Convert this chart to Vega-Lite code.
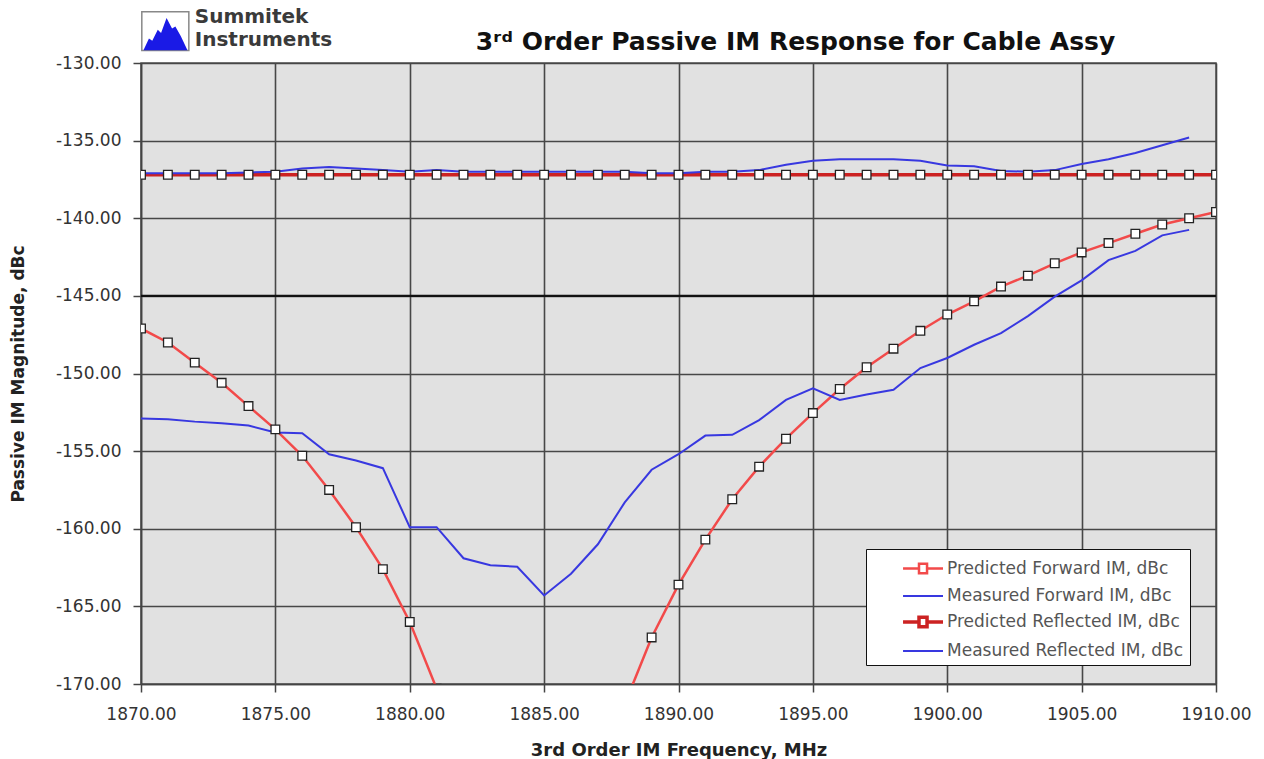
{
  "$schema": "https://vega.github.io/schema/vega-lite/v6.json",
  "width": 1075,
  "height": 621,
  "autosize": {"type": "none"},
  "padding": {"left": 141, "top": 63, "right": 48, "bottom": 75},
  "background": "white",
  "title": {
    "text": "3ʳᵈ Order Passive IM Response for Cable Assy",
    "font": "DejaVu Sans",
    "fontSize": 25,
    "fontWeight": "bold",
    "color": "#111111",
    "anchor": "middle",
    "dx": 117,
    "dy": 57,
    "offset": 9
  },
  "config": {
    "view": {"fill": "#e1e1e1", "stroke": "#555555", "strokeWidth": 1.5},
    "axis": {
      "labelFont": "DejaVu Sans",
      "labelFontSize": 17,
      "labelColor": "#333333",
      "titleFont": "DejaVu Sans",
      "titleFontWeight": "bold",
      "titleColor": "#222222",
      "gridColor": "#474747",
      "gridWidth": 1.6,
      "gridOpacity": 1,
      "tickColor": "#444444",
      "tickWidth": 1.5,
      "tickSize": 8,
      "domainColor": "#444444",
      "domainWidth": 1.5
    }
  },
  "data": {
    "values": [
      {"f": 1870, "pf": -147.1, "pr": -137.2, "mf": -152.9, "mr": -137.1},
      {"f": 1871, "pf": -148.0, "pr": -137.2, "mf": -152.95, "mr": -137.1},
      {"f": 1872, "pf": -149.3, "pr": -137.2, "mf": -153.1, "mr": -137.1},
      {"f": 1873, "pf": -150.6, "pr": -137.2, "mf": -153.2, "mr": -137.1},
      {"f": 1874, "pf": -152.1, "pr": -137.2, "mf": -153.35, "mr": -137.05},
      {"f": 1875, "pf": -153.6, "pr": -137.2, "mf": -153.8, "mr": -137.0},
      {"f": 1876, "pf": -155.3, "pr": -137.2, "mf": -153.85, "mr": -136.8},
      {"f": 1877, "pf": -157.5, "pr": -137.2, "mf": -155.2, "mr": -136.7},
      {"f": 1878, "pf": -159.9, "pr": -137.2, "mf": -155.6, "mr": -136.8},
      {"f": 1879, "pf": -162.6, "pr": -137.2, "mf": -156.1, "mr": -136.9},
      {"f": 1880, "pf": -166.0, "pr": -137.2, "mf": -159.9, "mr": -137.0},
      {"f": 1881, "pf": -170.3, "pr": -137.2, "mf": -159.9, "mr": -136.9},
      {"f": 1882, "pf": -175.3, "pr": -137.2, "mf": -161.9, "mr": -137.0},
      {"f": 1883, "pf": -179.0, "pr": -137.2, "mf": -162.35, "mr": -137.0},
      {"f": 1884, "pf": -181.5, "pr": -137.2, "mf": -162.45, "mr": -137.0},
      {"f": 1885, "pf": -182.3, "pr": -137.2, "mf": -164.3, "mr": -137.0},
      {"f": 1886, "pf": -180.6, "pr": -137.2, "mf": -162.9, "mr": -137.0},
      {"f": 1887, "pf": -176.5, "pr": -137.2, "mf": -161.0, "mr": -137.0},
      {"f": 1888, "pf": -171.3, "pr": -137.2, "mf": -158.3, "mr": -137.0},
      {"f": 1889, "pf": -167.0, "pr": -137.2, "mf": -156.2, "mr": -137.1},
      {"f": 1890, "pf": -163.6, "pr": -137.2, "mf": -155.2, "mr": -137.1},
      {"f": 1891, "pf": -160.7, "pr": -137.2, "mf": -154.0, "mr": -137.0},
      {"f": 1892, "pf": -158.1, "pr": -137.2, "mf": -153.95, "mr": -137.0},
      {"f": 1893, "pf": -156.0, "pr": -137.2, "mf": -153.0, "mr": -136.9},
      {"f": 1894, "pf": -154.2, "pr": -137.2, "mf": -151.7, "mr": -136.55},
      {"f": 1895, "pf": -152.55, "pr": -137.2, "mf": -150.95, "mr": -136.3},
      {"f": 1896, "pf": -151.0, "pr": -137.2, "mf": -151.7, "mr": -136.2},
      {"f": 1897, "pf": -149.6, "pr": -137.2, "mf": -151.35, "mr": -136.2},
      {"f": 1898, "pf": -148.4, "pr": -137.2, "mf": -151.05, "mr": -136.2},
      {"f": 1899, "pf": -147.25, "pr": -137.2, "mf": -149.65, "mr": -136.3},
      {"f": 1900, "pf": -146.2, "pr": -137.2, "mf": -149.0, "mr": -136.6},
      {"f": 1901, "pf": -145.35, "pr": -137.2, "mf": -148.15, "mr": -136.65},
      {"f": 1902, "pf": -144.4, "pr": -137.2, "mf": -147.4, "mr": -136.95},
      {"f": 1903, "pf": -143.7, "pr": -137.2, "mf": -146.3, "mr": -137.0},
      {"f": 1904, "pf": -142.9, "pr": -137.2, "mf": -145.05, "mr": -136.9},
      {"f": 1905, "pf": -142.2, "pr": -137.2, "mf": -144.0, "mr": -136.5},
      {"f": 1906, "pf": -141.6, "pr": -137.2, "mf": -142.7, "mr": -136.2},
      {"f": 1907, "pf": -141.0, "pr": -137.2, "mf": -142.1, "mr": -135.8},
      {"f": 1908, "pf": -140.4, "pr": -137.2, "mf": -141.1, "mr": -135.3},
      {"f": 1909, "pf": -140.0, "pr": -137.2, "mf": -140.75, "mr": -134.8},
      {"f": 1910, "pf": -139.6, "pr": -137.2, "mf": null, "mr": null}
    ]
  },
  "layer": [
    {
      "data": {"values": [{"v": -145}]},
      "mark": {"type": "rule", "color": "#111111", "strokeWidth": 2.2},
      "encoding": {"y": {"field": "v", "type": "quantitative"}}
    },
    {
      "transform": [{"fold": ["pf", "pr", "mf", "mr"], "as": ["s", "v"]}],
      "mark": {"type": "line", "clip": true},
      "encoding": {
        "x": {
          "field": "f",
          "type": "quantitative",
          "scale": {"domain": [1870, 1910], "nice": false, "zero": false},
          "axis": {
            "values": [1870, 1875, 1880, 1885, 1890, 1895, 1900, 1905, 1910],
            "format": ".2f",
            "labelFlush": false,
            "labelPadding": 14,
            "title": "3rd Order IM Frequency, MHz",
            "titleFontSize": 18,
            "titlePadding": 19
          }
        },
        "y": {
          "field": "v",
          "type": "quantitative",
          "scale": {"domain": [-170, -130], "nice": false, "zero": false},
          "axis": {
            "values": [-170, -165, -160, -155, -150, -145, -140, -135, -130],
            "labelExpr": "'-' + format(abs(datum.value), '.2f')",
            "labelPadding": 12,
            "title": "Passive IM Magnitude, dBc",
            "titleFontSize": 17,
            "titlePadding": 28
          }
        },
        "color": {
          "field": "s",
          "type": "nominal",
          "scale": {"domain": ["pf", "mf", "pr", "mr"], "range": ["#f24a4a", "#3838e0", "#cc2222", "#3838e0"]},
          "legend": {
            "title": null,
            "orient": "none",
            "legendX": 725,
            "legendY": 486,
            "padding": 6,
            "fillColor": "white",
            "strokeColor": "#111111",
            "rowPadding": 4,
            "symbolSize": 576,
            "symbolStrokeWidth": 2.5,
            "labelOffset": 47,
            "labelFont": "DejaVu Sans",
            "labelFontSize": 17,
            "labelColor": "#555555",
            "labelLimit": 400,
            "labelExpr": "datum.value == 'pf' ? 'Predicted Forward IM, dBc' : datum.value == 'mf' ? 'Measured Forward IM, dBc' : datum.value == 'pr' ? 'Predicted Reflected IM, dBc' : 'Measured Reflected IM, dBc'",
            "encode": {
              "symbols": {
                "update": {
                  "shape": {"signal": "(datum.value == 'pf' || datum.value == 'pr') ? 'M1.42,0H2.75M3.42,0H4.75M2.75,-0.4H3.42V0.4H2.75Z' : 'M1.42,0H4.75'"},
                  "fill": {"signal": "(datum.value == 'pf' || datum.value == 'pr') ? 'white' : 'transparent'"}
                }
              }
            }
          }
        },
        "strokeWidth": {
          "field": "s",
          "type": "nominal",
          "scale": {"type": "ordinal", "domain": ["pf", "mf", "pr", "mr"], "range": [2.5, 2, 3.5, 2]},
          "legend": null
        }
      }
    },
    {
      "transform": [
        {"fold": ["pf", "pr"], "as": ["s", "v"]}
      ],
      "mark": {"type": "point", "shape": "square", "filled": true, "fill": "white", "stroke": "#222222", "strokeWidth": 1.3, "size": 75, "opacity": 1, "clip": true},
      "encoding": {
        "x": {"field": "f", "type": "quantitative"},
        "y": {"field": "v", "type": "quantitative"}
      }
    },
    {
      "data": {"values": [{"logo": "box"}]},
      "mark": {"type": "rect", "fill": "white", "stroke": "#888888", "strokeWidth": 1.5},
      "encoding": {
        "x": {"datum": 1870.03, "type": "quantitative"},
        "x2": {"datum": 1871.78},
        "y": {"datum": -126.7, "type": "quantitative"},
        "y2": {"datum": -129.2}
      }
    },
    {
      "data": {"values": [{"logo": "mountain"}]},
      "mark": {"type": "point", "shape": "M-1,0.73L-0.75,0.2L-0.6,0.3L-0.35,-0.2L-0.2,-0.05L0.05,-0.73L0.3,-0.25L0.45,-0.35L0.7,0.1L1,0.73Z", "filled": true, "color": "#1a1ae6", "size": 1936, "opacity": 1, "strokeWidth": 0},
      "encoding": {
        "x": {"datum": 1870.91, "type": "quantitative"},
        "y": {"datum": -128.14, "type": "quantitative"}
      }
    },
    {
      "data": {"values": [{"label": "Summitek\nInstruments"}]},
      "mark": {"type": "text", "lineBreak": "\n", "align": "left", "baseline": "top", "font": "DejaVu Sans", "fontWeight": "bold", "fontSize": 20, "lineHeight": 23, "color": "#3a3a3a"},
      "encoding": {
        "x": {"datum": 1872.0, "type": "quantitative"},
        "y": {"datum": -126.4, "type": "quantitative"},
        "text": {"field": "label"}
      }
    }
  ]
}
